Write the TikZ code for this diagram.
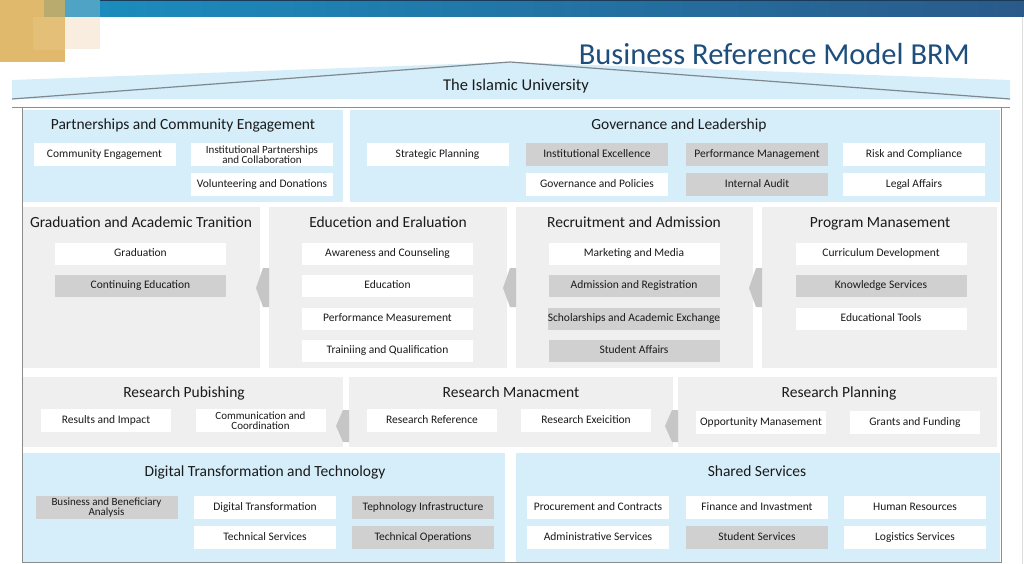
\documentclass[tikz,border=0pt]{standalone}
\usepackage{fontspec}
\setmainfont{Carlito}
\definecolor{lblue}{HTML}{D5EEF9}
\definecolor{pgray}{HTML}{EFEFEF}
\definecolor{bgray}{HTML}{D0D0D0}
\definecolor{chev}{HTML}{C6C6C6}
\definecolor{txt}{HTML}{1A1A1A}
\definecolor{ttl}{HTML}{1E4E7C}
\definecolor{frm}{HTML}{8C8C8C}
\definecolor{roof}{HTML}{7F8890}
\definecolor{gold}{HTML}{E1B96C}
\definecolor{gold2}{HTML}{E4BF78}
\definecolor{olive}{HTML}{B9AB6E}
\definecolor{cream}{HTML}{F8EDDF}
\definecolor{barL}{HTML}{1A8FC0}
\definecolor{barR}{HTML}{2A5A8A}
\definecolor{barM}{HTML}{4FA3C4}
\definecolor{barTop}{HTML}{1A3A5A}
\definecolor{edgeR}{HTML}{DDDDDD}
\begin{document}
\begin{tikzpicture}[x=1pt,y=-1pt,
  panelB/.style={fill=lblue,draw=none,inner sep=0pt,anchor=north west},
  panelG/.style={fill=pgray,draw=none,inner sep=0pt,anchor=north west},
  ptitle/.style={text=txt,font=\fontsize{15.5}{16}\selectfont,inner sep=0pt,text height=11pt,text depth=3.5pt},
  tb/.style={fill=white,draw=none,inner sep=0pt,align=center,text=txt},
  box/.style={tb,font=\fontsize{11.5}{11}\selectfont,text height=8pt,text depth=2.5pt},
  gbox/.style={box,fill=bgray},
  box2/.style={tb,font=\fontsize{11}{10.5}\selectfont},
  gbox2/.style={box2,fill=bgray},
  bA/.style={minimum width=142pt,minimum height=23pt},
  bB/.style={minimum width=171pt,minimum height=22pt},
  bC/.style={minimum width=130pt,minimum height=23pt},
  chevron/.style={fill=chev,draw=none}
]
\useasboundingbox (0,0) rectangle (1024,564);
% top decoration
\shade[left color=barL,right color=barR] (44,0) rectangle (1024,17);
\draw[barTop,line width=0.8pt] (44,0.4) -- (1024,0.4);
\fill[gold] (0,0) rectangle (65,62);
\fill[gold2] (33,17) rectangle (65,50);
\fill[olive] (44,0) rectangle (65,17);
\fill[barM] (65,0) rectangle (100,17);
\fill[cream] (65,17) rectangle (100,49);
\draw[edgeR,line width=0.6pt] (1022,17) -- (1022,564);
% title
\node[text=ttl,font=\fontsize{30.5}{31}\selectfont,inner sep=0pt,anchor=base east] (title) at (970,65) {Business Reference Model BRM};
% roof
\fill[lblue] (12,99) -- (12,80) -- (510,62) -- (1010,80) -- (1010,99) -- cycle;
\draw[roof,line width=1.2pt] (12,99) -- (510,62) -- (1010,99);
\node[ptitle,font=\fontsize{16.5}{17}\selectfont] (uni) at (516,87) {The Islamic University};
% frame
\draw[frm,line width=1pt] (12,108) -- (1010,108);
\draw[frm,line width=1pt] (22,108) -- (22,562) -- (1001,562) -- (1001,108);
% ---------- row 1
\node[panelB,minimum width=320pt,minimum height=92pt] (pce) at (23,110) {};
\node[panelB,minimum width=650pt,minimum height=92pt] (gov) at (350,110) {};
\node[ptitle] (pceT) at (183,126) {Partnerships and Community Engagement};
\node[ptitle] (govT) at (679,126) {Governance and Leadership};
\node[box,bA] (ce) at (104.5,154.5) {Community Engagement};
\node[box2,bA] (ipc) at (262,154.5) {Institutional Partnerships\\and Collaboration};
\node[box,bA] (vd) at (262,184.5) {Volunteering and Donations};
\node[box,bA] (sp) at (437.5,154.5) {Strategic Planning};
\node[gbox,bA] (ie) at (597,154.5) {Institutional Excellence};
\node[gbox,bA] (pm) at (757,154.5) {Performance Management};
\node[box,bA] (rc) at (914,154.5) {Risk and Compliance};
\node[box,bA] (gp) at (597,184.5) {Governance and Policies};
\node[gbox,bA] (ia) at (757,184.5) {Internal Audit};
\node[box,bA] (la) at (914,184.5) {Legal Affairs};
% ---------- row 2
\node[panelG,minimum width=237pt,minimum height=161pt] (gat) at (23,207) {};
\node[panelG,minimum width=238pt,minimum height=161pt] (eae) at (269,207) {};
\node[panelG,minimum width=237pt,minimum height=161pt] (raa) at (516,207) {};
\node[panelG,minimum width=235pt,minimum height=161pt] (pmg) at (762,207) {};
\fill[chevron] (eae.west |- 0,268) -- ++(-6,0) -- ++(-7,20) -- ++(7,19) -- (eae.west |- 0,307) -- cycle;
\fill[chevron] (raa.west |- 0,268) -- ++(-6,0) -- ++(-7,20) -- ++(7,19) -- (raa.west |- 0,307) -- cycle;
\fill[chevron] (pmg.west |- 0,268) -- ++(-6,0) -- ++(-7,20) -- ++(7,19) -- (pmg.west |- 0,307) -- cycle;
\node[ptitle] (gatT) at (141,224) {Graduation and Academic Tranition};
\node[ptitle] (eaeT) at (388,224) {Educetion and Eraluation};
\node[ptitle] (raaT) at (634,224) {Recruitment and Admission};
\node[ptitle] (pmgT) at (880,224) {Program Manasement};
\node[box,bB] (gr) at (140.5,254) {Graduation};
\node[gbox,bB] (cned) at (140.5,286) {Continuing Education};
\node[box,bB] (ac) at (387.5,254) {Awareness and Counseling};
\node[box,bB] (ed) at (387.5,286) {Education};
\node[box,bB] (pmeas) at (387.5,319) {Performance Measurement};
\node[box,bB] (tq) at (387.5,351) {Trainiing and Qualification};
\node[box,bB] (mm) at (634,254) {Marketing and Media};
\node[gbox,bB] (ar) at (634,286) {Admission and Registration};
\node[gbox,bB] (sae) at (634,319) {Scholarships and Academic Exchange};
\node[gbox,bB] (sa) at (634,351) {Student Affairs};
\node[box,bB] (cd) at (881,254) {Curriculum Development};
\node[gbox,bB] (ks) at (881,286) {Knowledge Services};
\node[box,bB] (et) at (881,319) {Educational Tools};
% ---------- row 3
\node[panelG,minimum width=320pt,minimum height=70pt] (rpu) at (23,377) {};
\node[panelG,minimum width=324pt,minimum height=70pt] (rma) at (349,377) {};
\node[panelG,minimum width=319pt,minimum height=70pt] (rpl) at (678,377) {};
\fill[chevron] (rma.west |- 0,410) -- ++(-6,0) -- ++(-7,16) -- ++(7,16) -- (rma.west |- 0,442) -- cycle;
\fill[chevron] (rpl.west |- 0,410) -- ++(-6,0) -- ++(-7,16) -- ++(7,16) -- (rpl.west |- 0,442) -- cycle;
\node[ptitle] (rpuT) at (184,394) {Research Pubishing};
\node[ptitle] (rmaT) at (511,394) {Research Manacment};
\node[ptitle] (rplT) at (839,394) {Research Planning};
\node[box,bC] (ri) at (106,420.5) {Results and Impact};
\node[box2,bC] (cc) at (260.5,420.5) {Communication and\\Coordination};
\node[box,bC] (rr) at (432,420.5) {Research Reference};
\node[box,bC] (rex) at (586,420.5) {Research Exeicition};
\node[box,bC] (om) at (761,422.5) {Opportunity Manasement};
\node[box,bC] (gf) at (915,422.5) {Grants and Funding};
% ---------- row 4
\node[panelB,minimum width=482pt,minimum height=109pt] (dtt) at (23,453) {};
\node[panelB,minimum width=484pt,minimum height=109pt] (shs) at (516,453) {};
\node[ptitle] (dttT) at (265,473) {Digital Transformation and Technology};
\node[ptitle] (shsT) at (757,473) {Shared Services};
\node[gbox2,bA] (bba) at (106.5,507.5) {Business and Beneficiary\\Analysis};
\node[box,bA] (dt) at (265,507.5) {Digital Transformation};
\node[gbox,bA] (ti) at (423,507.5) {Tephnology Infrastructure};
\node[box,bA] (ts) at (265,537.5) {Technical Services};
\node[gbox,bA] (tops) at (423,537.5) {Technical Operations};
\node[box,bA] (pc) at (598,507.5) {Procurement and Contracts};
\node[box,bA] (fi) at (757,507.5) {Finance and Invastment};
\node[box,bA] (hr) at (915,507.5) {Human Resources};
\node[box,bA] (as) at (598,537.5) {Administrative Services};
\node[gbox,bA] (ss) at (757,537.5) {Student Services};
\node[box,bA] (ls) at (915,537.5) {Logistics Services};
\end{tikzpicture}
\end{document}
